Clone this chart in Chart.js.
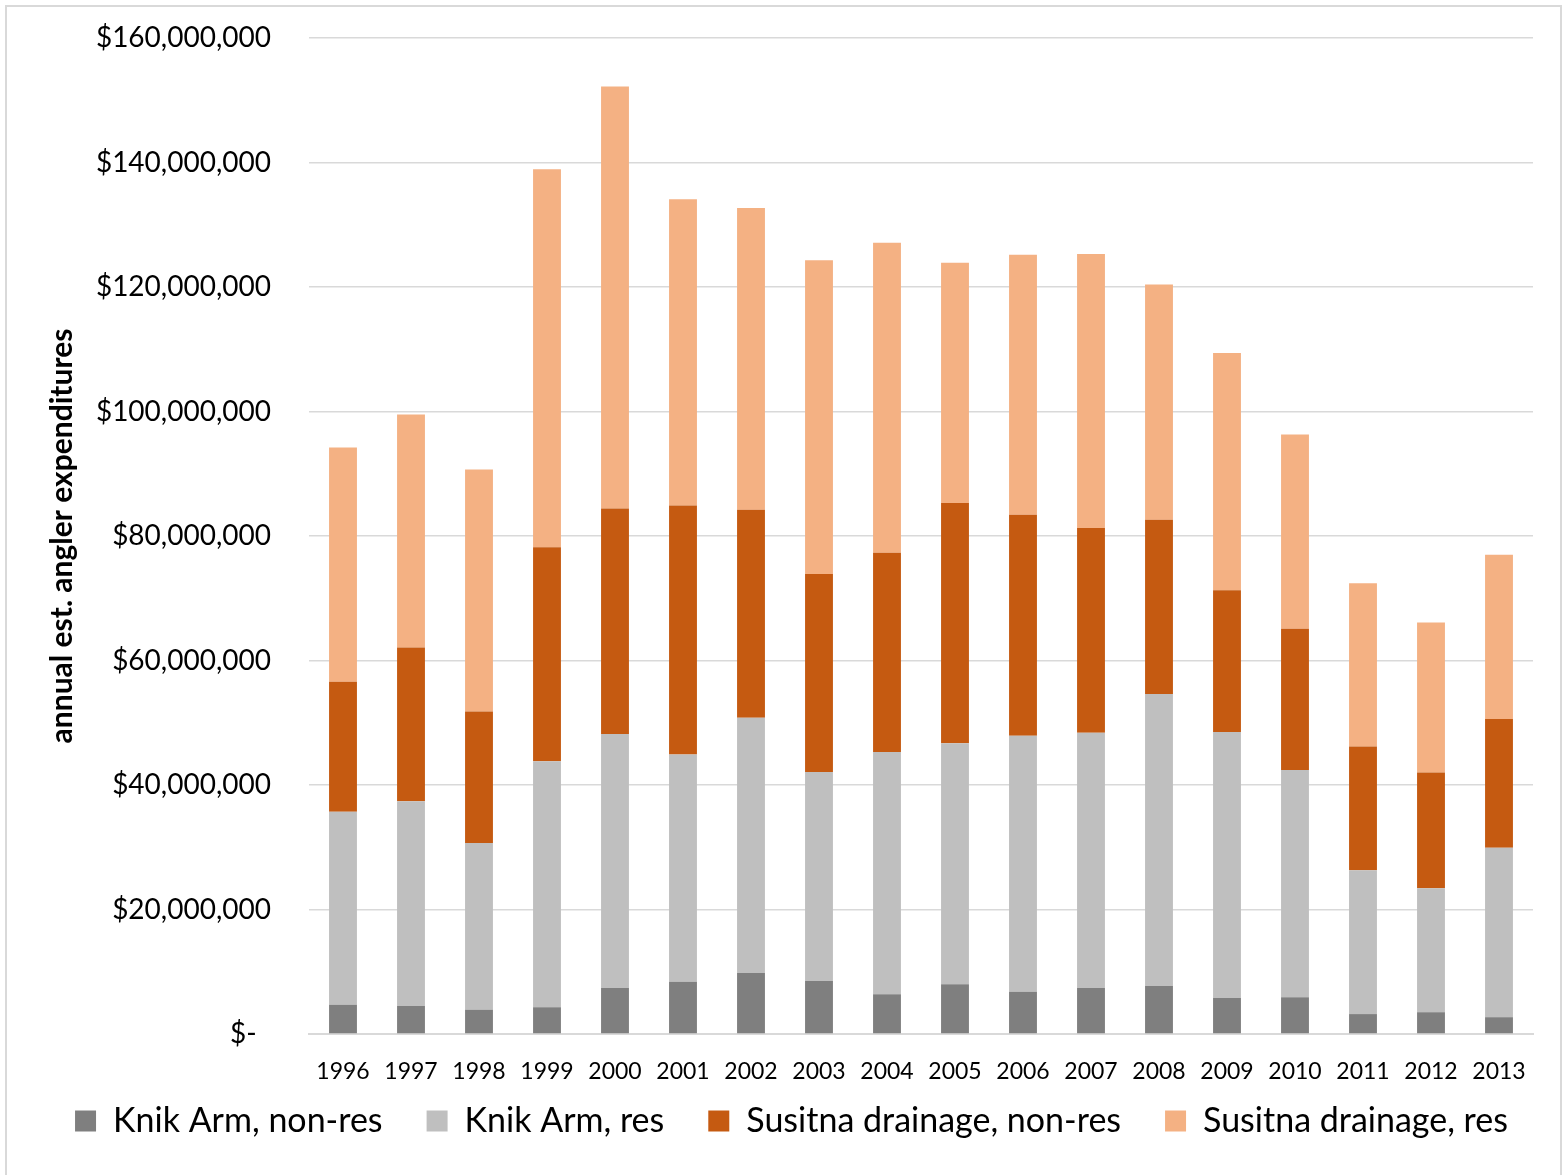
<!DOCTYPE html>
<html lang="en">
<head>
  <meta charset="UTF-8" />
  <title>Angler Expenditures</title>
  <script src="https://cdn.jsdelivr.net/npm/chart.js"></script>
  <style>
    body {
      margin: 0;
      background: white;
    }
    canvas {
      display: block;
      background-color: white;
    }
  </style>
</head>
<body>
  <canvas id="barChart" width="1567" height="1175"></canvas>

  <script>
    // values in millions of dollars
    const years = ["1996", "1997", "1998", "1999", "2000", "2001", "2002", "2003", "2004",
                   "2005", "2006", "2007", "2008", "2009", "2010", "2011", "2012", "2013"];
    const knikNonRes = [4.7, 4.5, 3.9, 4.3, 7.4, 8.4, 9.8, 8.5, 6.4, 8.0, 6.8, 7.4, 7.7, 5.8, 5.9, 3.2, 3.5, 2.7];
    const knikRes = [31.0, 32.9, 26.8, 39.5, 40.8, 36.5, 41.0, 33.6, 38.9, 38.7, 41.1, 41.0, 46.9, 42.7, 36.5, 23.1, 19.9, 27.2];
    const susitnaNonRes = [20.9, 24.7, 21.1, 34.4, 36.2, 40.0, 33.4, 31.8, 32.0, 38.6, 35.5, 32.9, 28.0, 22.8, 22.7, 19.9, 18.6, 20.7];
    const susitnaRes = [37.6, 37.4, 38.9, 60.7, 67.8, 49.2, 48.5, 50.4, 49.8, 38.6, 41.8, 44.0, 37.8, 38.1, 31.2, 26.2, 24.1, 26.4];
    const yTicks = [0, 20, 40, 60, 80, 100, 120, 140, 160];

    const toDollars = arr => arr.map(v => v * 1e6);

    const framePlugin = {
      id: "frame",
      beforeDraw(chart) {
        const ctx = chart.ctx;
        ctx.save();
        ctx.fillStyle = "white";
        ctx.fillRect(0, 0, chart.width, chart.height);
        ctx.strokeStyle = "#d9d9d9";
        ctx.lineWidth = 2;
        ctx.strokeRect(6, 6, chart.width - 12, chart.height + 20);
        ctx.restore();
      }
    };

    // nudge the legend up and right, closer to the x labels like the original
    const legendNudge = {
      id: "legendNudge",
      afterLayout(chart) {
        const lg = chart.legend;
        lg.top -= 27; lg.bottom -= 27;
        lg.left += 25; lg.right += 25;
      }
    };

    function makeSet(label, data, color) {
      return {
        label: label,
        data: toDollars(data),
        backgroundColor: color,
        borderWidth: 0,
        barPercentage: 0.41,
        categoryPercentage: 1.0
      };
    }

    const ctx = document.getElementById("barChart").getContext("2d");
    new Chart(ctx, {
      type: "bar",
      data: {
        labels: years,
        datasets: [
          makeSet("Knik Arm, non-res", knikNonRes, "#7f7f7f"),
          makeSet("Knik Arm, res", knikRes, "#bfbfbf"),
          makeSet("Susitna drainage, non-res", susitnaNonRes, "#c55a11"),
          makeSet("Susitna drainage, res", susitnaRes, "#f4b183")
        ]
      },
      options: {
        responsive: false,
        animation: false,
        layout: {
          padding: { top: 38, right: 34, bottom: 0, left: 0 }
        },
        scales: {
          x: {
            stacked: true,
            grid: { display: false },
            border: { color: "#d9d9d9", width: 2 },
            ticks: {
              color: "#000",
              font: { family: "Lato", size: 23 },
              padding: 16,
              maxRotation: 0
            },
            afterFit: scale => { scale.height = 53; }
          },
          y: {
            stacked: true,
            min: 0,
            max: 160e6,
            afterBuildTicks: scale => {
              scale.ticks = yTicks.map(v => ({ value: v * 1e6 }));
            },
            grid: { color: "#d9d9d9", lineWidth: 1.5, drawTicks: false },
            border: { display: false },
            ticks: {
              color: "#000",
              font: { family: "Lato", size: 28 },
              padding: 38,
              callback: v => v === 0 ? "$-  " : "$" + v.toLocaleString("en-US")
            },
            title: {
              display: true,
              text: "annual est. angler expenditures",
              color: "#000",
              font: { family: "Lato", size: 30, weight: "bold" },
              padding: { top: 44, bottom: 0 }
            },
            afterFit: scale => {
              scale.width = 309;
              scale.paddingTop = 0;
              scale.paddingBottom = 0;
            }
          }
        },
        plugins: {
          legend: {
            position: "bottom",
            labels: {
              color: "#000",
              font: { family: "Lato", size: 34 },
              boxWidth: 21,
              boxHeight: 21,
              padding: 44
            }
          },
          tooltip: { enabled: false }
        }
      },
      plugins: [framePlugin, legendNudge]
    });
  </script>
</body>
</html>
